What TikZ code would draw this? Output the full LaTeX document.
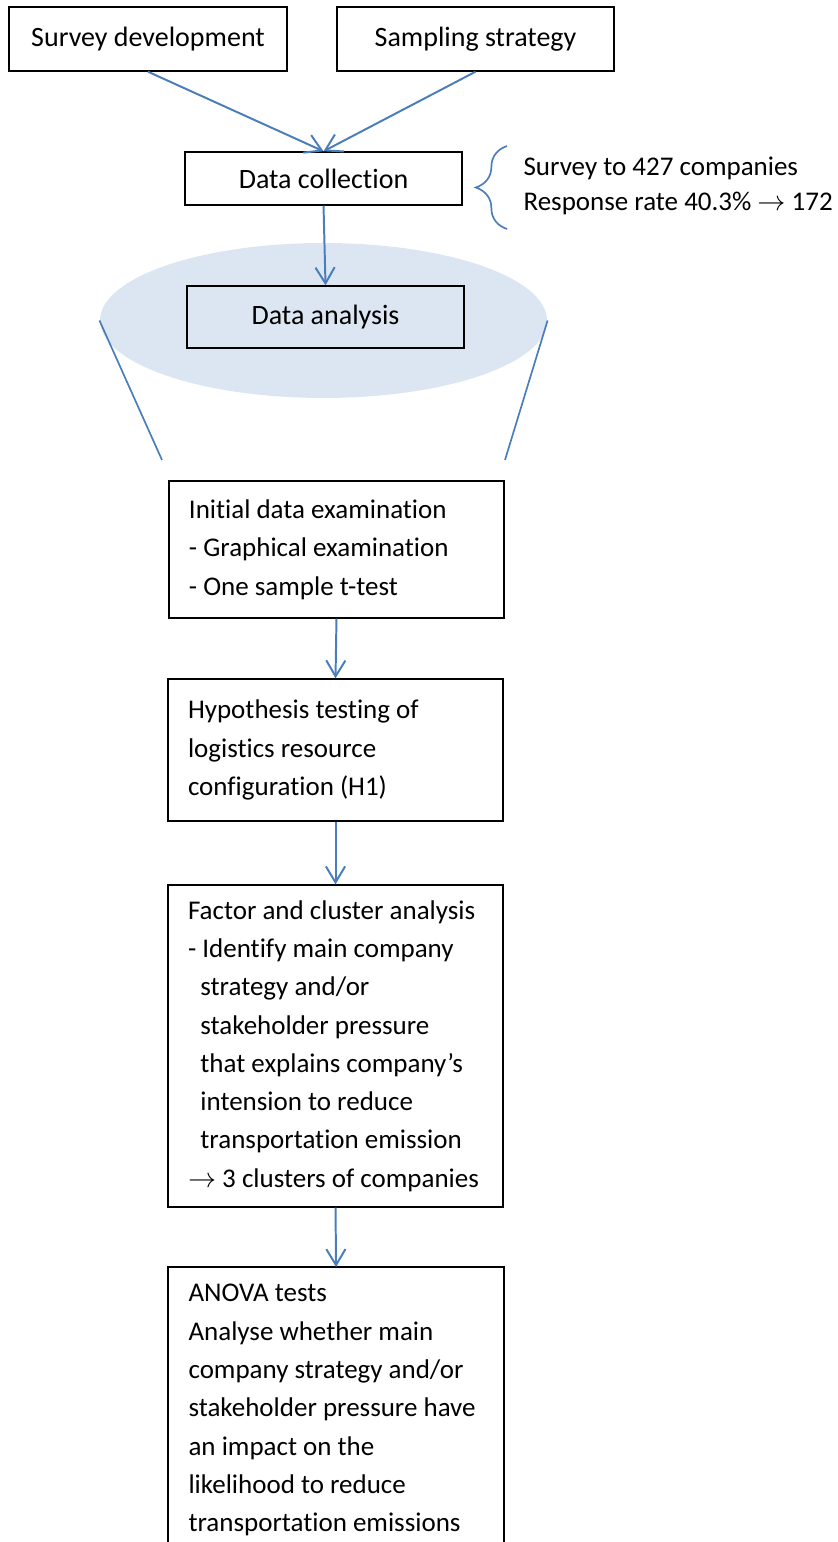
\documentclass[tikz,border=0pt]{standalone}
\usepackage{fontspec}
\setmainfont{Carlito}[Ligatures=NoCommon]
\usetikzlibrary{arrows.meta,shapes.geometric,decorations.pathreplacing}
\definecolor{flowblue}{HTML}{4A7EBB}
\definecolor{lensfill}{HTML}{DCE6F2}
\hyphenpenalty=10000
\tikzset{
  every node/.style={font=\fontsize{9.96}{13.62}\selectfont},
  stage/.style={draw, line width=0.5pt, minimum height=0.8cm, minimum width=3.4625cm, inner sep=0pt},
  stagetext/.style={draw, line width=0.5pt, text width=3.6875cm, inner xsep=0.25cm, inner ysep=0pt, align=flush left,
    font=\fontsize{9.6}{13.62}\selectfont},
  flow/.style={flowblue, line width=0.7pt, -{Straight Barb[length=0.2cm,width=0.24cm]}},
  funnel/.style={flowblue, line width=0.6pt},
}
\begin{document}
\begin{tikzpicture}
    \useasboundingbox (0,0) rectangle (10.475,-19.275);
    \coordinate (floor) at (0,-19.275);
    % Input
    \node[stage, minimum width=3.475cm] (sdev) at (1.85,-0.4875) {Survey development};
    \node[stage] (samp) at (5.944,-0.4875) {Sampling strategy};
    \node[stage, minimum height=0.6625cm] (collect) at (4.044,-2.231) {Data collection};
    % Response figures
    \draw[flowblue, line width=0.6pt, decorate, decoration={brace, amplitude=0.39cm}] (6.3375,-2.8625) -- (6.3375,-1.825);
    \node[anchor=west, align=flush left, inner sep=0pt, font=\fontsize{9.6}{12.4}\selectfont] (resp) at (6.5375,-2.325)
        {Survey to 427 companies\\ Response rate 40.3\% $\rightarrow$ 172};
    % Analysis lens
    \node[ellipse, fill=lensfill, inner sep=0pt, minimum width=5.5875cm, minimum height=1.9375cm] (lens) at (4.044,-4.006) {};
    \node[stage, minimum height=0.775cm] (analysis) at (4.069,-3.9625) {Data analysis};
    \coordinate (funL) at (2.025,-5.75);
    \coordinate (funR) at (6.3125,-5.75);
    \draw[funnel] (lens.west) -- (funL);
    \draw[funnel] (lens.east) -- (funR);
    % Steps
    \node[stagetext, minimum height=1.7125cm] (init) at (4.206,-6.869)
        {Initial data examination\\ - Graphical examination\\ - One sample t-test};
    \node[stagetext, minimum height=1.775cm] (hyp) at (4.194,-9.375)
        {Hypothesis testing of\\ logistics resource\\ configuration (H1)};
    \node[stagetext, minimum height=4.025cm] (fact) at (4.194,-13.075)
        {Factor and cluster analysis\\
         - Identify main company\\
         \hspace*{0.46em}strategy and/or\\
         \hspace*{0.46em}stakeholder pressure\\
         \hspace*{0.46em}that explains company's\\
         \hspace*{0.46em}intension to reduce\\
         \hspace*{0.46em}transportation emission\\
         $\rightarrow$ 3 clusters of companies};
    \node[anchor=north west, text width=3.6875cm, inner xsep=0.25cm, inner ysep=0.21cm, align=flush left,
        font=\fontsize{9.6}{13.62}\selectfont] (anova) at (2.1,-15.8375)
        {ANOVA tests\\ Analyse whether main\\ company strategy and/or\\ stakeholder pressure have\\ an impact on the\\ likelihood to reduce\\ transportation emissions};
    \draw[line width=0.5pt] (anova.north west |- floor) -- (anova.north west) -- (anova.north east) -- (anova.north east |- floor);
    % Connectors
    \draw[flow] (sdev.south) -- (collect.north);
    \draw[flow] (samp.south) -- (collect.north);
    \draw[flow] (collect.south) -- (analysis.north);
    \draw[flow] (init.south) -- (hyp.north);
    \draw[flow] (hyp.south) -- (fact.north);
    \draw[flow] (fact.south) -- (anova.north);
\end{tikzpicture}
\end{document}
